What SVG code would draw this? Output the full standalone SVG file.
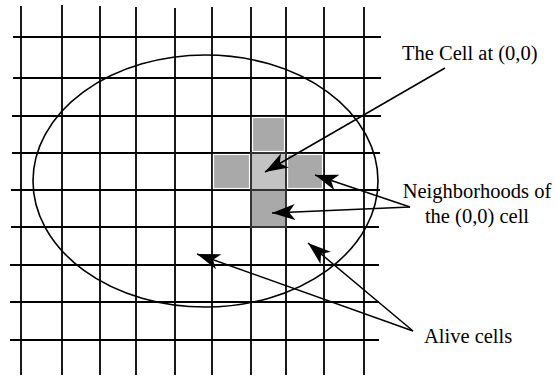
<svg xmlns="http://www.w3.org/2000/svg" width="555" height="376" viewBox="0 0 555 376">
<style>
.grid line{stroke:#000;stroke-width:1.8}
.cell{fill:#a9a9a9;stroke:#fff;stroke-width:1.2}
.cellc{fill:#c3c3c3;stroke:#333;stroke-width:2}
.celld{fill:#a9a9a9;stroke:#333;stroke-width:2}
.conn line{stroke:#000;stroke-width:1.5;marker-end:url(#ah)}
text{font-family:"Liberation Serif","Times New Roman",serif;font-size:20.5px;fill:#000}
</style>
<defs>
<marker id="ah" markerUnits="userSpaceOnUse" markerWidth="24" markerHeight="16" viewBox="0 0 24 16" refX="23" refY="8" orient="auto">
<path d="M23,8 L0,0 L6,8 L0,16 Z" fill="#000"/>
</marker>
</defs>
<rect width="555" height="376" fill="#fff"/>
<g id="grid" class="grid">
<line x1="21" y1="6" x2="21" y2="375"/>
<line x1="62" y1="5" x2="62" y2="375"/>
<line x1="100" y1="6" x2="100" y2="375"/>
<line x1="136" y1="7" x2="136" y2="375"/>
<line x1="175" y1="8" x2="175" y2="375"/>
<line x1="212" y1="7" x2="212" y2="375"/>
<line x1="251" y1="7" x2="251" y2="375"/>
<line x1="286" y1="7" x2="286" y2="375"/>
<line x1="324" y1="7" x2="324" y2="375"/>
<line x1="364" y1="7" x2="364" y2="375"/>
<line x1="13" y1="37" x2="381" y2="37"/>
<line x1="13" y1="78" x2="381" y2="78"/>
<line x1="12" y1="116" x2="381" y2="116"/>
<line x1="12" y1="153" x2="380" y2="153"/>
<line x1="11" y1="190" x2="380" y2="190"/>
<line x1="11" y1="227" x2="379" y2="227"/>
<line x1="10" y1="265" x2="379" y2="265"/>
<line x1="10" y1="302" x2="379" y2="302"/>
<line x1="10" y1="340" x2="379" y2="340"/>
</g>
<g id="neighbor-top"><rect class="cell" x="252.5" y="117.5" width="32" height="34"/></g>
<g id="neighbor-left"><rect class="cell" x="213.5" y="154.5" width="36" height="34"/></g>
<g id="neighbor-right"><rect class="cell" x="287.5" y="154.5" width="35" height="34"/></g>
<g id="cell-00"><rect class="cellc" x="251" y="153" width="35" height="37"/></g>
<g id="neighbor-bottom"><rect class="celld" x="251" y="190" width="35" height="37"/></g>
<g id="alive-region"><ellipse cx="205.5" cy="181" rx="172.5" ry="126" fill="none" stroke="#000" stroke-width="1.6"/></g>
<g id="label-cell"><text x="402" y="60">The Cell at (0,0)</text></g>
<g id="label-neighbor"><text x="477" y="198" text-anchor="middle">Neighborhoods of</text><text x="477" y="223" text-anchor="middle">the (0,0) cell</text></g>
<g id="label-alive"><text x="424" y="343">Alive cells</text></g>
<g id="connectors" class="conn">
<line x1="445" y1="68" x2="265" y2="172"/>
<line x1="410" y1="207" x2="315" y2="175"/>
<line x1="410" y1="207" x2="272" y2="213"/>
<line x1="413" y1="331" x2="197" y2="254"/>
<line x1="413" y1="331" x2="308" y2="243"/>
</g>
</svg>
